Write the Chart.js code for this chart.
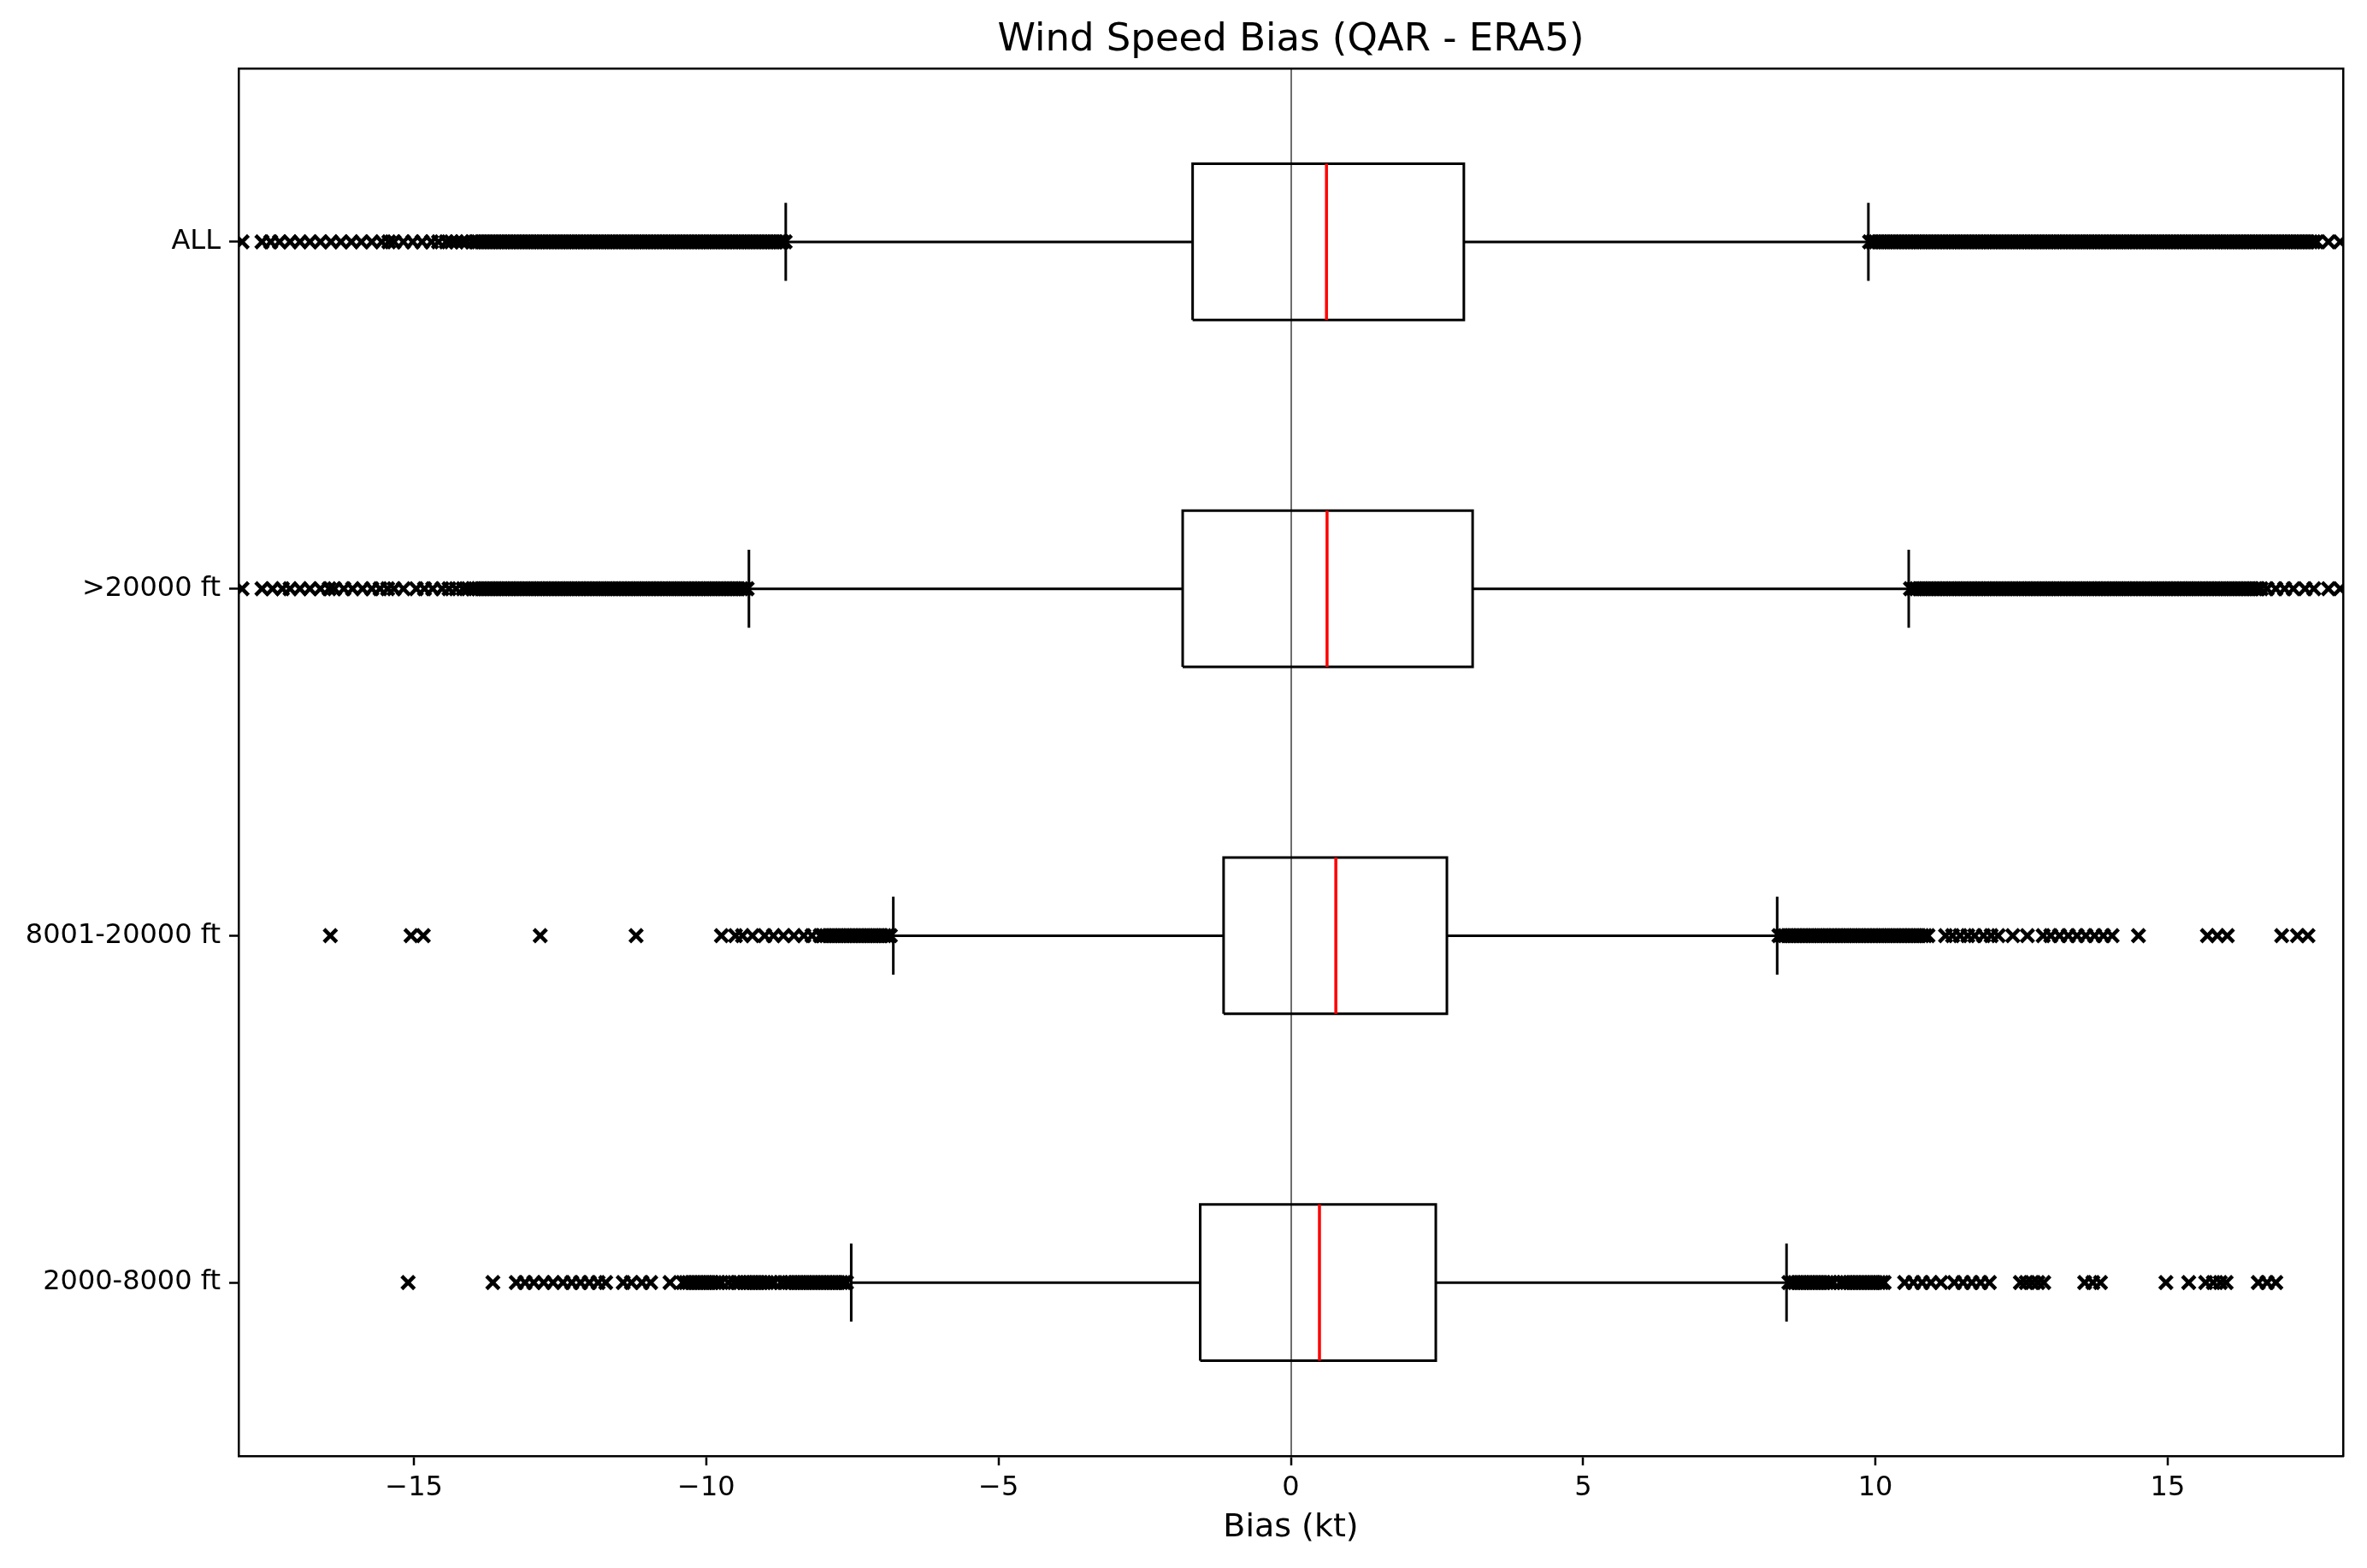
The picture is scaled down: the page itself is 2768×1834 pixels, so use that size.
<!DOCTYPE html>
<html>
<head>
<meta charset="utf-8">
<title>Wind Speed Bias (QAR - ERA5)</title>
<script src="https://cdn.jsdelivr.net/npm/chart.js@4.4.1/dist/chart.umd.min.js"></script>
<style>
  html, body { margin: 0; padding: 0; background: #fff; }
  #wrap { width: 2768px; height: 1834px; }
</style>
</head>
<body>
<div id="wrap"><canvas id="chart" width="2768" height="1834"></canvas></div>
<script>
// =========================
// DATA (bottom -> top, as matplotlib positions 1..4)
// =========================
const categories = ['2000-8000 ft', '8001-20000 ft', '>20000 ft', 'ALL'];
const whiskerLow  = [-7.52, -6.80, -9.27, -8.64];
const q1          = [-1.55, -1.15, -1.85, -1.68];
const median      = [ 0.49,  0.77,  0.62,  0.61];
const q3          = [ 2.48,  2.67,  3.11,  2.96];
const whiskerHigh = [ 8.48,  8.32, 10.57,  9.88];
const xTicks = [-15, -10, -5, 0, 5, 10, 15];

// fliers (the solid bands are very dense clouds of points)
const outliers2000 = [
  -15.10, -13.65, -13.25, -13.10, -12.95, -12.78, -12.62, -12.45, -12.30, -12.15, -12.00, -11.85, -11.72,
  -11.42, -11.28, -11.10, -10.95, -10.62,
  -10.40, -10.35, -10.30, -10.25, -10.20, -10.15, -10.10, -10.05, -10.00, -9.95,
  -9.90, -9.85, -9.80, -9.74, -9.62, -9.52, -9.47, -9.42, -9.36, -9.31, -9.26, -9.21,
  -9.16, -9.11, -9.06, -9.01, -8.96, -8.90, -8.84, -8.72, -8.64, -8.59, -8.54, -8.49,
  -8.44, -8.39, -8.34, -8.29, -8.24, -8.19, -8.14, -8.09, -8.04, -7.99, -7.94, -7.89,
  -7.84, -7.79, -7.74, -7.69, -7.64, -7.60,
  8.52, 8.57, 8.62, 8.67, 8.72, 8.77, 8.82, 8.87, 8.92, 8.97, 9.02, 9.07, 9.12, 9.17,
  9.22, 9.28, 9.40, 9.46, 9.51, 9.56, 9.61, 9.66, 9.71, 9.76, 9.81, 9.86, 9.91, 9.96,
  10.01, 10.06, 10.11, 10.15,
  10.50, 10.65, 10.80, 10.95, 11.12, 11.35, 11.50, 11.65, 11.80, 11.95,
  12.48, 12.58, 12.68, 12.78, 12.88, 13.58, 13.72, 13.85, 14.97, 15.36,
  15.65, 15.78, 15.90, 16.00, 16.55, 16.70, 16.85
];
const outliers8001 = [
  -16.43, -15.05, -14.84, -12.84, -11.20, -9.74, -9.50, -9.38, -9.21, -9.00, -8.85, -8.68, -8.50, -8.33, -8.19,
  -8.05, -8.00, -7.95, -7.90, -7.85, -7.80, -7.75, -7.70, -7.65, -7.60, -7.55, -7.50, -7.45,
  -7.40, -7.35, -7.30, -7.25, -7.20, -7.15, -7.10, -7.05, -7.00, -6.95, -6.90, -6.85,
  8.35, 8.40, 8.45, 8.50, 8.55, 8.60, 8.65, 8.70, 8.75, 8.80, 8.85, 8.90, 8.95, 9.00,
  9.05, 9.10, 9.15, 9.20, 9.25, 9.30, 9.35, 9.40, 9.45, 9.50, 9.55, 9.60, 9.65, 9.70,
  9.75, 9.80, 9.85, 9.90, 9.95, 10.00, 10.05, 10.10, 10.15, 10.20, 10.25, 10.30, 10.35,
  10.40, 10.45, 10.50, 10.55, 10.60, 10.65, 10.70, 10.75, 10.80, 10.85, 10.90,
  11.20, 11.32, 11.45, 11.58, 11.70, 11.85, 11.98, 12.10, 12.35, 12.60,
  12.87, 13.00, 13.15, 13.30, 13.45, 13.60, 13.75, 13.90, 14.05, 14.50,
  15.68, 15.85, 16.02, 16.95, 17.22, 17.40
];
const outliers20000 = [
  -17.94, -17.60, -17.42, -17.25, -17.12, -16.95, -16.78, -16.60, -16.45, -16.36, -16.20, -16.05, -15.88, -15.72,
  -15.58, -15.45, -15.34, -15.18, -14.96, -14.82, -14.68, -14.52, -14.40, -14.28, -14.16, -14.07,
  -14.00, -13.95, -13.90, -13.85, -13.80, -13.75, -13.70, -13.65, -13.60, -13.55,
  -13.50, -13.45, -13.40, -13.35, -13.30, -13.25, -13.20, -13.15, -13.10, -13.05,
  -13.00, -12.95, -12.90, -12.85, -12.80, -12.75, -12.70, -12.65, -12.60, -12.55,
  -12.50, -12.45, -12.40, -12.35, -12.30, -12.25, -12.20, -12.15, -12.10, -12.05,
  -12.00, -11.95, -11.90, -11.85, -11.80, -11.75, -11.70, -11.65, -11.60, -11.55,
  -11.50, -11.45, -11.40, -11.35, -11.30, -11.25, -11.20, -11.15, -11.10, -11.05,
  -11.00, -10.95, -10.90, -10.85, -10.80, -10.75, -10.70, -10.65, -10.60, -10.55,
  -10.50, -10.45, -10.40, -10.35, -10.30, -10.25, -10.20, -10.15, -10.10, -10.05,
  -10.00, -9.95, -9.90, -9.85, -9.80, -9.75, -9.70, -9.65, -9.60, -9.55,
  -9.50, -9.45, -9.40, -9.35, -9.30,
  10.60, 10.65, 10.70, 10.75, 10.80, 10.85, 10.90, 10.95, 11.00, 11.05,
  11.10, 11.15, 11.20, 11.25, 11.30, 11.35, 11.40, 11.45, 11.50, 11.55,
  11.60, 11.65, 11.70, 11.75, 11.80, 11.85, 11.90, 11.95, 12.00, 12.05,
  12.10, 12.15, 12.20, 12.25, 12.30, 12.35, 12.40, 12.45, 12.50, 12.55,
  12.60, 12.65, 12.70, 12.75, 12.80, 12.85, 12.90, 12.95, 13.00, 13.05,
  13.10, 13.15, 13.20, 13.25, 13.30, 13.35, 13.40, 13.45, 13.50, 13.55,
  13.60, 13.65, 13.70, 13.75, 13.80, 13.85, 13.90, 13.95, 14.00, 14.05,
  14.10, 14.15, 14.20, 14.25, 14.30, 14.35, 14.40, 14.45, 14.50, 14.55,
  14.60, 14.65, 14.70, 14.75, 14.80, 14.85, 14.90, 14.95, 15.00, 15.05,
  15.10, 15.15, 15.20, 15.25, 15.30, 15.35, 15.40, 15.45, 15.50, 15.55,
  15.60, 15.65, 15.70, 15.75, 15.80, 15.85, 15.90, 15.95, 16.00, 16.05,
  16.10, 16.15, 16.20, 16.25, 16.30, 16.35, 16.40, 16.45, 16.50, 16.55, 16.60,
  16.70, 16.85, 17.00, 17.15, 17.35, 17.50, 17.75, 17.95
];
const outliersAll = [
  -17.94, -17.60, -17.45, -17.30, -17.12, -16.95, -16.78, -16.60, -16.42, -16.25, -16.07, -15.90, -15.72,
  -15.55, -15.43, -15.34, -15.18, -15.02, -14.86, -14.70, -14.58, -14.45, -14.36, -14.27, -14.18, -14.10,
  -14.00, -13.95, -13.90, -13.85, -13.80, -13.75, -13.70, -13.65, -13.60, -13.55,
  -13.50, -13.45, -13.40, -13.35, -13.30, -13.25, -13.20, -13.15, -13.10, -13.05,
  -13.00, -12.95, -12.90, -12.85, -12.80, -12.75, -12.70, -12.65, -12.60, -12.55,
  -12.50, -12.45, -12.40, -12.35, -12.30, -12.25, -12.20, -12.15, -12.10, -12.05,
  -12.00, -11.95, -11.90, -11.85, -11.80, -11.75, -11.70, -11.65, -11.60, -11.55,
  -11.50, -11.45, -11.40, -11.35, -11.30, -11.25, -11.20, -11.15, -11.10, -11.05,
  -11.00, -10.95, -10.90, -10.85, -10.80, -10.75, -10.70, -10.65, -10.60, -10.55,
  -10.50, -10.45, -10.40, -10.35, -10.30, -10.25, -10.20, -10.15, -10.10, -10.05,
  -10.00, -9.95, -9.90, -9.85, -9.80, -9.75, -9.70, -9.65, -9.60, -9.55,
  -9.50, -9.45, -9.40, -9.35, -9.30, -9.25, -9.20, -9.15, -9.10, -9.05,
  -9.00, -8.95, -8.90, -8.85, -8.80, -8.75, -8.70, -8.65,
  9.90, 9.95, 10.00, 10.05, 10.10, 10.15, 10.20, 10.25, 10.30, 10.35,
  10.40, 10.45, 10.50, 10.55, 10.60, 10.65, 10.70, 10.75, 10.80, 10.85,
  10.90, 10.95, 11.00, 11.05, 11.10, 11.15, 11.20, 11.25, 11.30, 11.35,
  11.40, 11.45, 11.50, 11.55, 11.60, 11.65, 11.70, 11.75, 11.80, 11.85,
  11.90, 11.95, 12.00, 12.05, 12.10, 12.15, 12.20, 12.25, 12.30, 12.35,
  12.40, 12.45, 12.50, 12.55, 12.60, 12.65, 12.70, 12.75, 12.80, 12.85,
  12.90, 12.95, 13.00, 13.05, 13.10, 13.15, 13.20, 13.25, 13.30, 13.35,
  13.40, 13.45, 13.50, 13.55, 13.60, 13.65, 13.70, 13.75, 13.80, 13.85,
  13.90, 13.95, 14.00, 14.05, 14.10, 14.15, 14.20, 14.25, 14.30, 14.35,
  14.40, 14.45, 14.50, 14.55, 14.60, 14.65, 14.70, 14.75, 14.80, 14.85,
  14.90, 14.95, 15.00, 15.05, 15.10, 15.15, 15.20, 15.25, 15.30, 15.35,
  15.40, 15.45, 15.50, 15.55, 15.60, 15.65, 15.70, 15.75, 15.80, 15.85,
  15.90, 15.95, 16.00, 16.05, 16.10, 16.15, 16.20, 16.25, 16.30, 16.35,
  16.40, 16.45, 16.50, 16.55, 16.60, 16.65, 16.70, 16.75, 16.80, 16.85,
  16.90, 16.95, 17.00, 17.05, 17.10, 17.15, 17.20, 17.25, 17.30, 17.35,
  17.40, 17.45, 17.50, 17.55, 17.75, 17.95
];
const outliers = [outliers2000, outliers8001, outliers20000, outliersAll];

// =========================
// STYLE
// =========================
const BOX_HALF = 0.225;   // half box height (y units)
const CAP_HALF = 0.1125;  // half cap length (y units)
const GAP = { x: null, y: null };

Chart.defaults.font.family = "'DejaVu Sans', sans-serif";
Chart.defaults.color = '#000';

// =========================
// BUILD SEGMENTS FROM DATA
// =========================
const boxPts = [], whiskerPts = [], capPts = [], medianPts = [], outlierPts = [];
categories.forEach((c, i) => {
    const p = i + 1;
    boxPts.push(
        { x: q1[i], y: p - BOX_HALF }, { x: q3[i], y: p - BOX_HALF },
        { x: q3[i], y: p + BOX_HALF }, { x: q1[i], y: p + BOX_HALF },
        { x: q1[i], y: p - BOX_HALF }, GAP
    );
    whiskerPts.push(
        { x: whiskerLow[i], y: p }, { x: q1[i], y: p }, GAP,
        { x: q3[i], y: p }, { x: whiskerHigh[i], y: p }, GAP
    );
    capPts.push(
        { x: whiskerLow[i], y: p - CAP_HALF }, { x: whiskerLow[i], y: p + CAP_HALF }, GAP,
        { x: whiskerHigh[i], y: p - CAP_HALF }, { x: whiskerHigh[i], y: p + CAP_HALF }, GAP
    );
    medianPts.push({ x: median[i], y: p - BOX_HALF }, { x: median[i], y: p + BOX_HALF }, GAP);
    outliers[i].forEach(v => outlierPts.push({ x: v, y: p }));
});

const lineSet = (data, color, width) => ({
    data, showLine: true, borderColor: color, borderWidth: width,
    pointRadius: 0, pointHoverRadius: 0, spanGaps: false, fill: false, clip: 0
});

new Chart(document.getElementById('chart'), {
    type: 'scatter',
    data: {
        datasets: [
            lineSet(medianPts, '#ff0000', 3.5),
            lineSet(boxPts, '#000', 3),
            lineSet(whiskerPts, '#000', 3),
            lineSet(capPts, '#000', 3),
            {
                data: outlierPts, showLine: false, pointStyle: 'crossRot',
                pointRadius: 10.5, pointBorderWidth: 4.5, borderColor: '#000',
                backgroundColor: '#000', clip: 0
            }
        ]
    },
    options: {
        responsive: false,
        animation: false,
        devicePixelRatio: 1,
        layout: { padding: 0 },
        plugins: { legend: { display: false }, tooltip: { enabled: false } },
        scales: {
            x: {
                type: 'linear', position: 'bottom', min: -18, max: 18,
                afterBuildTicks: s => { s.ticks = xTicks.map(v => ({ value: v })); },
                afterFit: s => { s.height = 131; },
                ticks: {
                    font: { size: 32 }, color: '#000', padding: 7, maxRotation: 0,
                    callback: v => v < 0 ? '\u2212' + Math.abs(v) : String(v)
                },
                grid: {
                    color: ctx => (ctx.tick && ctx.tick.value === 0) ? '#6e6e6e' : 'rgba(0,0,0,0)',
                    lineWidth: 2, tickColor: '#000', tickWidth: 2.5, tickLength: 11
                },
                border: { display: true, color: '#000', width: 2.5 },
                title: {
                    display: true, text: 'Bias (kt)', color: '#000',
                    font: { size: 38 }, padding: { top: 0, bottom: 24 }
                }
            },
            x2: {
                type: 'linear', axis: 'x', position: 'top', min: -18, max: 18,
                afterFit: s => { s.height = 80; },
                ticks: { display: false },
                grid: { display: false, drawTicks: false },
                border: { display: true, color: '#000', width: 2.5 },
                title: {
                    display: true, text: 'Wind Speed Bias (QAR - ERA5)', color: '#000',
                    font: { size: 45 }, padding: { top: 20, bottom: 0 }
                }
            },
            y: {
                type: 'linear', position: 'left', min: 0.5, max: 4.5,
                afterBuildTicks: s => { s.ticks = categories.map((c, i) => ({ value: i + 1 })); },
                afterFit: s => { s.width = 279; },
                ticks: {
                    font: { size: 32 }, color: '#000', padding: 10,
                    callback: v => categories[v - 1]
                },
                grid: { drawOnChartArea: false, color: '#000', tickWidth: 2.5, tickLength: 11 },
                border: { display: true, color: '#000', width: 2.5 }
            },
            y2: {
                type: 'linear', axis: 'y', position: 'right', min: 0.5, max: 4.5,
                afterFit: s => { s.width = 28; },
                ticks: { display: false },
                grid: { display: false, drawTicks: false },
                border: { display: true, color: '#000', width: 2.5 }
            }
        }
    }
});
</script>
</body>
</html>
